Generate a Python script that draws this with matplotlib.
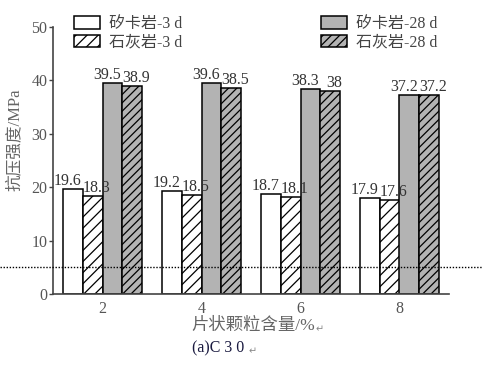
import matplotlib
matplotlib.use("Agg")
import matplotlib.pyplot as plt
from matplotlib.patches import Patch
from matplotlib.lines import Line2D
import numpy as np

plt.rcParams['font.family'] = ['Liberation Serif', 'Noto Sans CJK SC', 'DejaVu Sans']
plt.rcParams['hatch.linewidth'] = 0.9

contents = [2, 4, 6, 8]
skarn_3d = [19.6, 19.2, 18.7, 17.9]
lime_3d = [18.3, 18.5, 18.1, 17.6]
skarn_28d = [39.5, 39.6, 38.3, 37.2]
lime_28d = [38.9, 38.5, 38.0, 37.2]
value_labels = [
    ["19.6", "19.2", "18.7", "17.9"],
    ["18.3", "18.5", "18.1", "17.6"],
    ["39.5", "39.6", "38.3", "37.2"],
    ["38.9", "38.5", "38", "37.2"],
]
series_names = ["矽卡岩-3 d", "石灰岩-3 d", "矽卡岩-28 d", "石灰岩-28 d"]
yticks = [0, 10, 20, 30, 40, 50]

fig = plt.figure(figsize=(4.83, 3.89), dpi=100)
ax = fig.add_axes([53/483, 1-294/389, (449-53)/483, (294-27)/389])

x = np.array(contents, dtype=float)
w = 0.4
offsets = [-1.5*w, -0.5*w, 0.5*w, 1.5*w]
gray = '#b3b3b3'
styles = [
    dict(facecolor='white', hatch=None),
    dict(facecolor='white', hatch='///'),
    dict(facecolor=gray, hatch=None),
    dict(facecolor=gray, hatch='////'),
]
data = [skarn_3d, lime_3d, skarn_28d, lime_28d]
label_shift = [-4, 3, -4, 3]
for i, (vals, st) in enumerate(zip(data, styles)):
    ax.bar(x + offsets[i], vals, width=w, facecolor=st['facecolor'],
           hatch=st['hatch'], edgecolor='black', linewidth=1.1, zorder=2)
    for xi, v, lab in zip(x + offsets[i], vals, value_labels[i]):
        ax.annotate(lab, (xi, v), xytext=(label_shift[i], 0.0),
                    textcoords='offset points', ha='center', va='bottom',
                    fontsize=11.5, color='#333333', family='Liberation Serif')

ax.set_xlim(1, 9)
ax.set_ylim(0, 50)
ax.set_yticks(yticks)
ax.set_yticklabels([str(t) for t in yticks])
ax.set_xticks(contents)
ax.set_xticklabels([str(c) for c in contents])
ax.tick_params(axis='y', direction='out', length=3, width=1, color='#444444',
               labelsize=11.5, labelcolor='#555555', pad=1)
ax.tick_params(axis='x', length=0, labelsize=11.5, labelcolor='#555555', pad=5)
for s in ['top', 'right']:
    ax.spines[s].set_visible(False)
for s in ['left', 'bottom']:
    ax.spines[s].set_color('#444444')
    ax.spines[s].set_linewidth(1.2)

handles = [Patch(facecolor=st['facecolor'], hatch=st['hatch'], edgecolor='black', linewidth=1.1)
           for st in styles]
leg_kw = dict(frameon=False, fontsize=11.5, handlelength=1.65, handleheight=0.8,
              handletextpad=0.55, labelspacing=0.15, borderaxespad=0, borderpad=0,
              labelcolor='#444444')
leg1 = fig.legend(handles[:2], series_names[:2], loc='upper left',
                  bbox_to_anchor=(74/483, 1-16/389), **leg_kw)
leg2 = fig.legend(handles[2:], series_names[2:], loc='upper left',
                  bbox_to_anchor=(321/483, 1-16/389), **leg_kw)

fig.text(15/483, 1-140/389, "抗压强度/MPa", rotation=90, ha='center', va='center',
         fontsize=12, color='#666666', family=['Liberation Serif', 'Noto Sans CJK SC'])
fig.text(253/483, 1-326/389, "片状颗粒含量/%", ha='center', va='center',
         fontsize=12.5, color='#666666', family=['Liberation Serif', 'Noto Sans CJK SC'])
fig.text(316/483, 1-329/389, "↵", ha='left', va='center', fontsize=7, color='#888888',
         family='DejaVu Sans')
fig.text(218/483, 1-348/389, "(a)C 3 0", ha='center', va='center', fontsize=11.5,
         color='#1a1a40', family='Liberation Serif')
fig.text(249/483, 1-351/389, "↵", ha='left', va='center', fontsize=7, color='#888888',
         family='DejaVu Sans')

fig.add_artist(Line2D([0, 1], [1-267/389, 1-267/389], transform=fig.transFigure,
                      color='black', linestyle=(0, (1, 1.2)), linewidth=1.0, zorder=5))

fig.savefig("out.png", dpi=100)
